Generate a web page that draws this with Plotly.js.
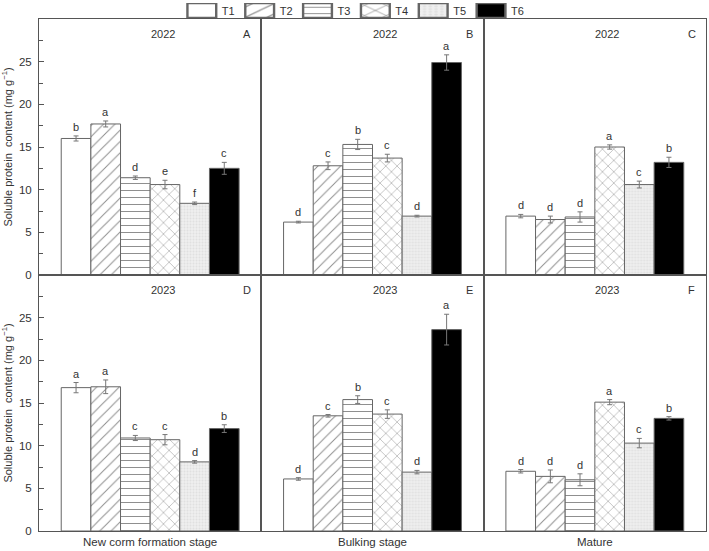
<!DOCTYPE html>
<html>
<head>
<meta charset="utf-8">
<script src="https://cdn.plot.ly/plotly-3.0.1.min.js"></script>
<style>
  html, body { margin: 0; padding: 0; background: #fff; }
  #chart { width: 709px; height: 551px; }
</style>
</head>
<body>
<div id="chart"></div>
<script>
// Soluble protein content by treatment, growth stage and year
const treatments = ['T1', 'T2', 'T3', 'T4', 'T5', 'T6'];
const stages = ['New corm formation stage', 'Bulking stage', 'Mature'];
const years = ['2022', '2023'];
const panelLetters = ['A', 'B', 'C', 'D', 'E', 'F'];
const yTickVals = [0, 5, 10, 15, 20, 25];
const yMinorVals = [2.5, 7.5, 12.5, 17.5, 22.5, 27.5];

// one row per stage, one value per treatment
const means2022 = [
  [16.0, 17.7, 11.4, 10.6, 8.4, 12.5],
  [6.2, 12.8, 15.3, 13.7, 6.9, 24.9],
  [6.9, 6.5, 6.8, 15.0, 10.6, 13.2]
];
const errors2022 = [
  [0.3, 0.35, 0.2, 0.5, 0.15, 0.7],
  [0.1, 0.45, 0.6, 0.45, 0.1, 0.9],
  [0.2, 0.4, 0.6, 0.25, 0.4, 0.6]
];
const letters2022 = [
  ['b', 'a', 'd', 'e', 'f', 'c'],
  ['d', 'c', 'b', 'c', 'd', 'a'],
  ['d', 'd', 'd', 'a', 'c', 'b']
];
const means2023 = [
  [16.8, 16.9, 10.9, 10.7, 8.1, 12.0],
  [6.1, 13.5, 15.4, 13.7, 6.9, 23.6],
  [7.0, 6.4, 6.0, 15.1, 10.3, 13.2]
];
const errors2023 = [
  [0.6, 0.8, 0.3, 0.6, 0.15, 0.45],
  [0.15, 0.15, 0.45, 0.5, 0.2, 1.8],
  [0.2, 0.75, 0.7, 0.3, 0.55, 0.2]
];
const letters2023 = [
  ['a', 'a', 'c', 'c', 'd', 'b'],
  ['d', 'c', 'b', 'c', 'd', 'a'],
  ['d', 'd', 'd', 'a', 'c', 'b']
];

const FONT = 'Liberation Sans, Arial, sans-serif';
const TEXT = '#333333';
const LINE = '#555555';

const fills = [
  { color: '#ffffff', pattern: { shape: '' } },
  { color: '#ffffff', pattern: { shape: '/', fgcolor: '#8c8c8c', bgcolor: '#ffffff', size: 8, solidity: 0.12 } },
  { color: '#ffffff', pattern: { shape: '-', fgcolor: '#8c8c8c', bgcolor: '#ffffff', size: 7, solidity: 0.14 } },
  { color: '#ffffff', pattern: { shape: 'x', fgcolor: '#8c8c8c', bgcolor: '#ffffff', size: 8, solidity: 0.12 } },
  { color: '#ececec', pattern: { shape: '.', fgcolor: '#e0e0e0', bgcolor: '#efefef', size: 3, solidity: 0.3 } },
  { color: '#000000', pattern: { shape: '' } }
];

const byYear = [
  { means: means2022, errors: errors2022, letters: letters2022 },
  { means: means2023, errors: errors2023, letters: letters2023 }
];

const groupWidth = 0.8;
const barW = groupWidth / treatments.length;

const traces = [];
const annotations = [];
const layout = {
  width: 709, height: 551,
  margin: { l: 39, r: 3, t: 19, b: 20, autoexpand: false },
  paper_bgcolor: '#ffffff', plot_bgcolor: '#ffffff',
  font: { family: FONT, size: 11, color: TEXT },
  barmode: 'group', bargap: 0.2, bargroupgap: 0,
  showlegend: true,
  legend: {
    orientation: 'h', xref: 'paper', yref: 'paper',
    x: 0.475, xanchor: 'center', y: 1.045, yanchor: 'top',
    bgcolor: 'rgba(0,0,0,0)',
    font: { family: FONT, size: 11, color: TEXT },
    itemwidth: 30, tracegroupgap: 0, traceorder: 'normal'
  },
  annotations: annotations
};

years.forEach((yr, r) => {
  const d = byYear[r];
  stages.forEach((stage, c) => {
    const k = r * 3 + c + 1;
    const xa = 'x' + (k === 1 ? '' : k);
    const ya = 'y' + (k === 1 ? '' : k);
    const xKey = 'xaxis' + (k === 1 ? '' : k);
    const yKey = 'yaxis' + (k === 1 ? '' : k);

    treatments.forEach((t, i) => {
      traces.push({
        type: 'bar', name: t, x: [0], y: [d.means[c][i]],
        xaxis: xa, yaxis: ya,
        legendgroup: t, showlegend: k === 1,
        marker: {
          color: fills[i].color,
          pattern: fills[i].pattern,
          line: { color: '#666666', width: 1 }
        },
        error_y: {
          type: 'data', array: [d.errors[c][i]], visible: true,
          color: '#777777', thickness: 1, width: 2.5
        },
        hoverinfo: 'skip'
      });
      annotations.push({
        xref: xa, yref: ya,
        x: -groupWidth / 2 + (i + 0.5) * barW,
        y: d.means[c][i] + d.errors[c][i],
        text: d.letters[c][i], showarrow: false,
        xanchor: 'center', yanchor: 'bottom', yshift: 1,
        font: { family: FONT, size: 11, color: TEXT }
      });
    });

    annotations.push({
      xref: xa + ' domain', yref: ya + ' domain', x: 0.556, y: 0.94,
      text: yr, showarrow: false, xanchor: 'center', yanchor: 'middle',
      font: { family: FONT, size: 11, color: TEXT }
    });
    annotations.push({
      xref: xa + ' domain', yref: ya + ' domain', x: 0.937, y: 0.94,
      text: panelLetters[k - 1], showarrow: false, xanchor: 'center', yanchor: 'middle',
      font: { family: FONT, size: 11, color: TEXT }
    });

    const xdom = [c / 3, (c + 1) / 3];
    const ydom = r === 0 ? [0.5, 1] : [0, 0.5];
    layout[xKey] = {
      domain: xdom, anchor: ya, range: [-0.5, 0.5], fixedrange: true,
      showticklabels: false, ticks: '', showgrid: false, zeroline: false,
      showline: true, mirror: true, linecolor: LINE, linewidth: 1
    };
    if (r === 1) {
      layout[xKey].title = { text: stage, standoff: 6, font: { family: FONT, size: 11.5, color: TEXT } };
    }
    const left = c === 0;
    layout[yKey] = {
      domain: ydom, anchor: xa, range: [0, 30], fixedrange: true,
      showgrid: false, zeroline: false,
      showline: true, mirror: true, linecolor: LINE, linewidth: 1,
      tickmode: 'array', tickvals: left ? yTickVals : [],
      ticks: left ? 'inside' : '', ticklen: 5, tickcolor: LINE, tickwidth: 1,
      showticklabels: left, ticklabelstandoff: 4,
      tickfont: { family: FONT, size: 11.5, color: TEXT }
    };
    if (left) {
      layout[yKey].minor = { tickmode: 'array', tickvals: yMinorVals, ticks: 'inside', ticklen: 4, tickcolor: LINE, tickwidth: 1 };
      layout[yKey].title = { text: 'Soluble protein  content (mg g<sup>\u22121</sup>)', standoff: 5, font: { family: FONT, size: 11, color: TEXT } };
    }
  });
});

Plotly.newPlot('chart', traces, layout, { displayModeBar: false, staticPlot: true }).then(() => {
  // stretch the legend swatches into flat boxes, keeping their own offset
  document.querySelectorAll('.legend .legendpoints path').forEach(p => {
    const base = p.getAttribute('transform') || '';
    p.setAttribute('transform', base + ' scale(2.4,1.15)');
  });
});
</script>
</body>
</html>
